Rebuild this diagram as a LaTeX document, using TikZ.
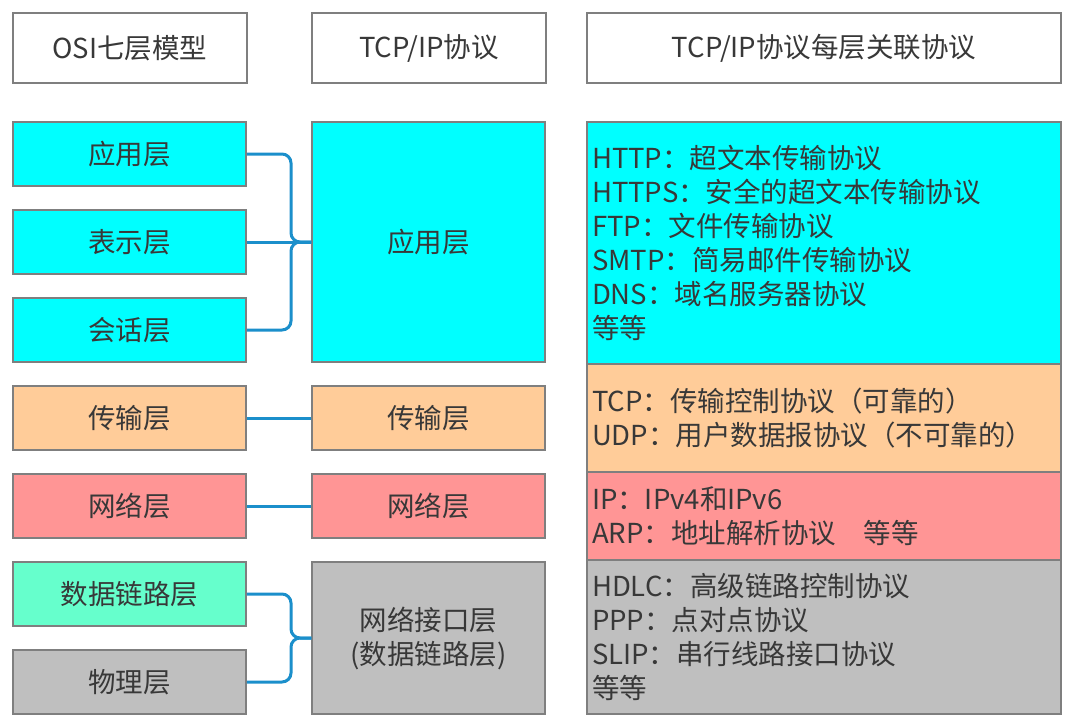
\documentclass[tikz,border=0pt]{standalone}
\usepackage{fontspec}
\setmainfont{Noto Sans CJK SC}
\usetikzlibrary{calc}
\definecolor{bord}{HTML}{7F7F7F}
\definecolor{txt}{HTML}{383838}
\definecolor{cyanL}{HTML}{00FFFF}
\definecolor{orangeL}{HTML}{FFCC99}
\definecolor{redL}{HTML}{FF9595}
\definecolor{greenL}{HTML}{66FFCC}
\definecolor{grayL}{HTML}{BFBFBF}
\definecolor{conn}{HTML}{1B8FCB}
\tikzset{
  box/.style={draw=bord, line width=1.5pt, text=txt, inner sep=0pt, align=center,
    font=\fontsize{27.5}{34}\selectfont},
  lbox/.style={box, minimum width=233, minimum height=64},
  mbox/.style={box, minimum width=233},
  hbox/.style={box, minimum height=70, fill=white},
  rbox/.style={box, minimum width=474, text width=464, align=left, inner xsep=5pt},
  link/.style={draw=conn, line width=3pt, rounded corners=9pt},
}
\begin{document}
\begin{tikzpicture}[x=1pt,y=-1pt]
\useasboundingbox (0,0) rectangle (1076,728);
% headers
\node[hbox, minimum width=234] (h1) at (130,48) {OSI七层模型};
\node[hbox, minimum width=234] (h2) at (429,48) {TCP/IP协议};
\node[hbox, minimum width=474] (h3) at (824,48) {TCP/IP协议每层关联协议};
% left column
\node[lbox, fill=cyanL] (l1) at (129.5,154) {应用层};
\node[lbox, fill=cyanL] (l2) at (129.5,242) {表示层};
\node[lbox, fill=cyanL] (l3) at (129.5,330) {会话层};
\node[lbox, fill=orangeL] (l4) at (129.5,418) {传输层};
\node[lbox, fill=redL] (l5) at (129.5,506) {网络层};
\node[lbox, fill=greenL] (l6) at (129.5,594) {数据链路层};
\node[lbox, fill=grayL] (l7) at (129.5,682) {物理层};
% middle column
\node[mbox, fill=cyanL, minimum height=240] (m1) at (428.5,242) {应用层};
\node[mbox, fill=orangeL, minimum height=64] (m2) at (428.5,418) {传输层};
\node[mbox, fill=redL, minimum height=64] (m3) at (428.5,506) {网络层};
\node[mbox, fill=grayL, minimum height=152] (m4) at (428.5,638) {网络接口层\\(数据链路层)};
% right column
\node[rbox, fill=cyanL, minimum height=242] (r1) at (824,243) {HTTP：超文本传输协议\\HTTPS：安全的超文本传输协议\\FTP：文件传输协议\\SMTP：简易邮件传输协议\\DNS：域名服务器协议\\等等};
\node[rbox, fill=orangeL, minimum height=108] (r2) at (824,418) {TCP：传输控制协议（可靠的）\\UDP：用户数据报协议（不可靠的）};
\node[rbox, fill=redL, minimum height=88] (r3) at (824,516) {IP：IPv4和IPv6\\ARP：地址解析协议　等等};
\node[rbox, fill=grayL, minimum height=154] (r4) at (824,637) {HDLC：高级链路控制协议\\PPP：点对点协议\\SLIP：串行线路接口协议\\等等};
% connectors
\coordinate (j1) at (291,242);
\coordinate (j2) at (291,638);
\draw[link] (l1.east) -| (j1) -- (m1.west);
\draw[link] (l3.east) -| (j1) -- (m1.west);
\draw[link] (l2.east) -- (m1.west);
\draw[link] (l4.east) -- (m2.west);
\draw[link] (l5.east) -- (m3.west);
\draw[link] (l6.east) -| (j2) -- (m4.west);
\draw[link] (l7.east) -| (j2) -- (m4.west);
\end{tikzpicture}
\end{document}
